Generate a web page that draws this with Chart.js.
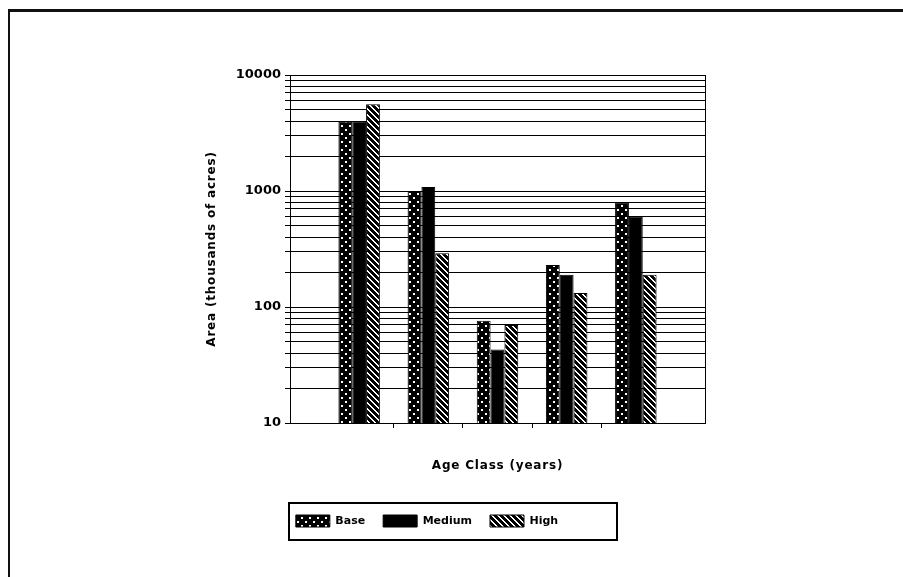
<!DOCTYPE html>
<html><head><meta charset="utf-8">
<script src="https://cdn.jsdelivr.net/npm/chart.js@4/dist/chart.umd.min.js"></script>
<style>
html,body{margin:0;padding:0;background:#fff;}
#wrap{position:relative;width:903px;height:577px;overflow:hidden;}
#frame{position:absolute;left:8px;top:9px;right:-10px;bottom:-10px;border-top:3px solid #111;border-left:2px solid #111;pointer-events:none;}
canvas{position:absolute;left:0;top:0;}
</style></head><body>
<div id="wrap"><canvas id="c" width="903" height="577"></canvas><div id="frame"></div></div>
<script>
// ---- data ----
const ageClasses = ['1', '2', '3', '4', '5'];
const seriesNames = ['Base', 'Medium', 'High'];
const baseValues = [3950, 1000, 76, 230, 800];
const mediumValues = [4000, 1080, 43, 190, 600];
const highValues = [5600, 290, 70, 132, 190];
const yMajorTicks = [10, 100, 1000, 10000];
const xTitle = 'Age Class (years)';
const yTitle = 'Area (thousands of acres)';

// gridline values: every 1..9 multiple inside each decade
const yGridValues = [];
for (let i = 0; i < yMajorTicks.length - 1; i++) {
  for (let k = 1; k <= 9; k++) yGridValues.push(yMajorTicks[i] * k);
}
yGridValues.push(yMajorTicks[yMajorTicks.length - 1]);

function makePattern(kind) {
  const c = document.createElement('canvas');
  const n = kind === 'dots' ? 8 : 6;
  c.width = n; c.height = n;
  const g = c.getContext('2d');
  g.fillStyle = '#000'; g.fillRect(0, 0, n, n);
  g.fillStyle = '#fff';
  if (kind === 'dots') {
    g.fillRect(1, 1, 2, 2);
    g.fillRect(5, 5, 2, 2);
  } else if (kind === 'stripes') {
    for (let y = 0; y < n; y++) {
      for (let x = 0; x < n; x++) {
        const d = ((x - y) % n + n) % n;
        if (d === 0 || d === 1) g.fillRect(x, y, 1, 1);
      }
    }
  }
  return g.createPattern(c, 'repeat');
}

const toPoints = vals => vals.map((v, i) => ({x: i + 1, y: v}));
const fills = [makePattern('dots'), '#000', makePattern('stripes')];
const allValues = [baseValues, mediumValues, highValues];

const FONT = 'DejaVu Sans';

const legendFrame = {
  id: 'legendFrame',
  afterDraw(chart) {
    const lg = chart.legend;
    if (!lg || !lg.legendHitBoxes || !lg.legendHitBoxes.length) return;
    const hb = lg.legendHitBoxes;
    const first = hb[0], last = hb[hb.length - 1];
    const ctx = chart.ctx;
    ctx.save();
    ctx.strokeStyle = '#000';
    ctx.lineWidth = 2;
    const l = first.left - 7, t = first.top - 12;
    const r = last.left + last.width + 59, b = first.top + first.height + 13;
    ctx.strokeRect(Math.round(l), Math.round(t), Math.round(r - l), Math.round(b - t));
    ctx.restore();
  }
};

// wider letter spacing for the axis titles, like the original typeface
const titleSpacing = {
  id: 'titleSpacing',
  afterLayout(chart) {
    ['x', 'y'].forEach(id => {
      const s = chart.scales[id];
      if (s && !s._spacedTitle) {
        const orig = s.drawTitle;
        s.drawTitle = function () {
          this.ctx.save();
          this.ctx.letterSpacing = '0.8px';
          orig.call(this);
          this.ctx.restore();
        };
        s._spacedTitle = true;
      }
    });
  }
};

new Chart(document.getElementById('c'), {
  type: 'bar',
  data: {
    datasets: seriesNames.map((name, i) => ({
      label: name,
      data: toPoints(allValues[i]),
      backgroundColor: fills[i],
      borderColor: '#000',
      borderWidth: 1,
      categoryPercentage: 0.6,
      barPercentage: 1.0
    }))
  },
  options: {
    responsive: false,
    animation: false,
    layout: {padding: {top: 75, bottom: 40, left: 0, right: 49}},
    plugins: {
      legend: {
        position: 'bottom',
        labels: {
          font: {family: FONT, weight: 'bold', size: 11},
          color: '#000', boxWidth: 34, boxHeight: 12, padding: 18
        }
      },
      tooltip: {enabled: false}
    },
    scales: {
      x: {
        type: 'linear', min: 0, max: ageClasses.length + 1, offset: false,
        afterBuildTicks: s => { s.ticks = ageClasses.slice(1).map((_, i) => ({value: i + 1.5})); },
        afterFit: s => { s.height = 74; },
        grid: {offset: false, drawOnChartArea: false, drawTicks: true, tickLength: 5, color: '#000'},
        border: {display: true, color: '#000', width: 1},
        ticks: {display: false},
        title: {display: true, text: xTitle, color: '#000',
          font: {family: FONT, weight: 'bold', size: 12}, padding: {top: 0, bottom: 24}}
      },
      y: {
        type: 'logarithmic', position: 'left', min: yMajorTicks[0], max: yMajorTicks[yMajorTicks.length - 1],
        afterBuildTicks: s => { s.ticks = yGridValues.map(v => ({value: v, major: yMajorTicks.includes(v)})); },
        afterFit: s => { s.width = 290; },
        grid: {color: '#000', lineWidth: 1, tickLength: 5},
        border: {display: true, color: '#000', width: 1},
        ticks: {autoSkip: false, color: '#000', padding: 4,
          font: {family: FONT, weight: 'bold', size: 13},
          callback: v => yMajorTicks.includes(v) ? String(v) : ''},
        title: {display: true, text: yTitle, color: '#000',
          font: {family: FONT, weight: 'bold', size: 12}, padding: {top: 205, bottom: 0}}
      },
      y2: {
        type: 'linear', position: 'right', display: true,
        grid: {display: false, drawTicks: false},
        ticks: {display: false},
        border: {display: true, color: '#000', width: 1},
        afterFit: s => { s.width = 149; }
      }
    }
  },
  plugins: [legendFrame, titleSpacing]
});
</script>
</body></html>
